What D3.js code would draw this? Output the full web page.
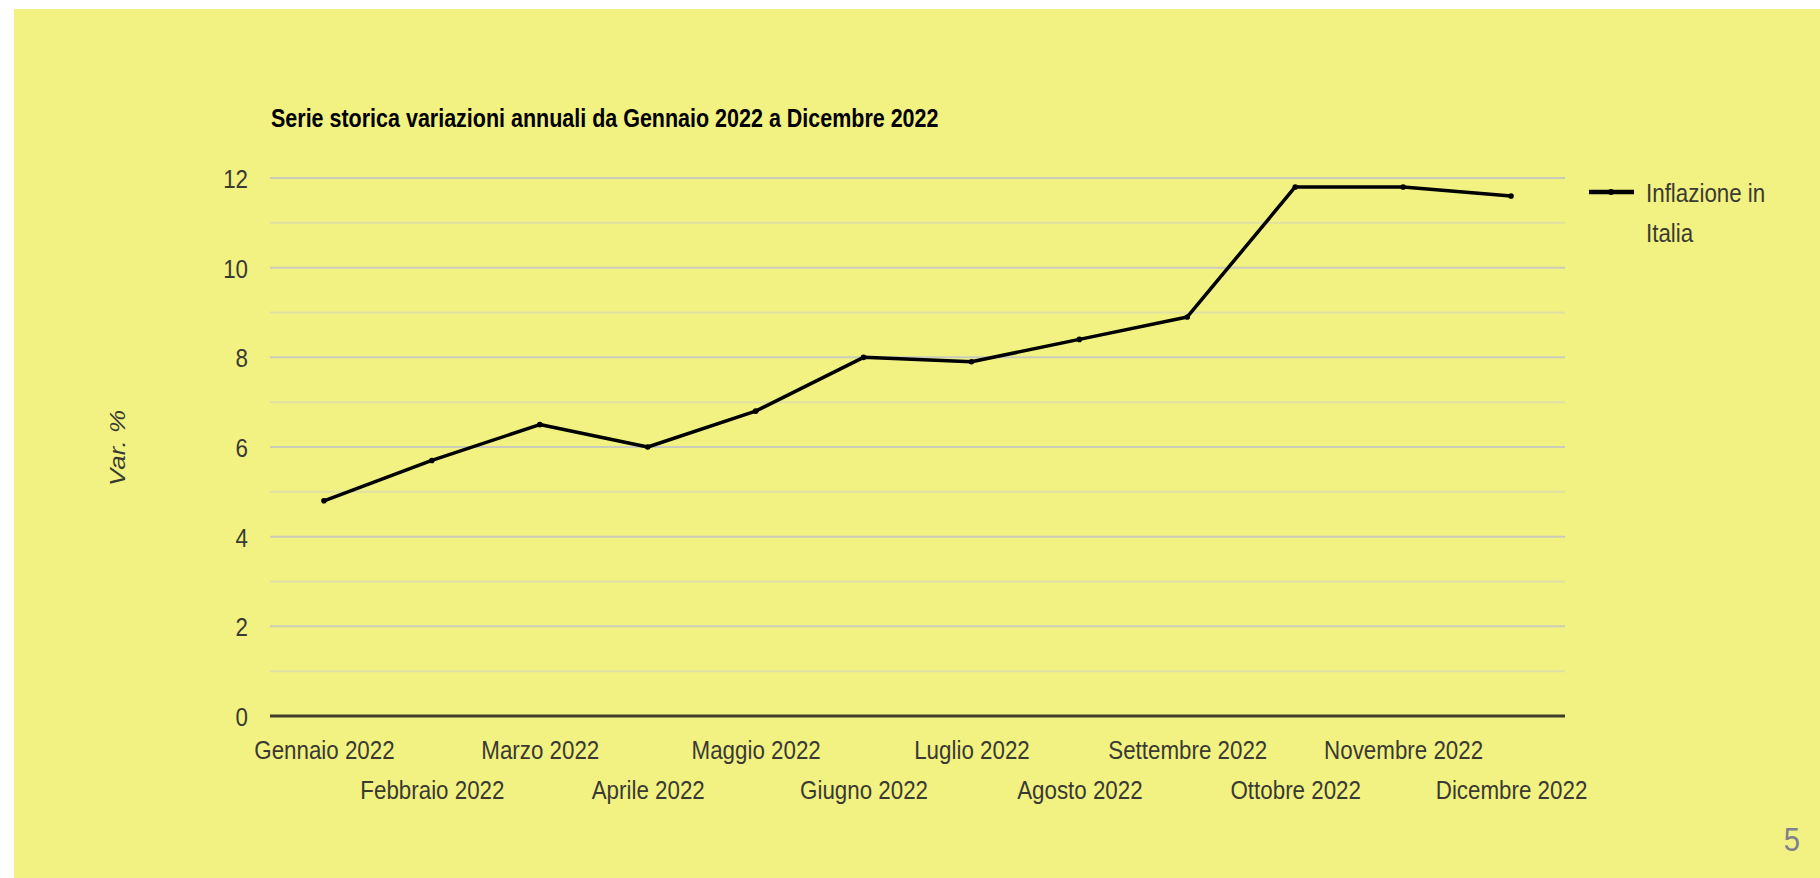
<!DOCTYPE html>
<html>
<head>
<meta charset="utf-8">
<script src="https://cdn.jsdelivr.net/npm/d3@7"></script>
<style>
  html, body { margin: 0; padding: 0; background: #fff; }
  svg { display: block; }
  text { font-family: "Liberation Sans", Arial, sans-serif; }
</style>
</head>
<body>
<svg width="1820" height="878"></svg>
<script>
// dati: inflazione italiana, variazioni annuali 2022
const months = ["Gennaio 2022", "Febbraio 2022", "Marzo 2022", "Aprile 2022", "Maggio 2022", "Giugno 2022",
  "Luglio 2022", "Agosto 2022", "Settembre 2022", "Ottobre 2022", "Novembre 2022", "Dicembre 2022"];
const inflation = [4.8, 5.7, 6.5, 6.0, 6.8, 8.0, 7.9, 8.4, 8.9, 11.8, 11.8, 11.6];
const yTicks = [0, 2, 4, 6, 8, 10, 12];
const gridValues = [0, 1, 2, 3, 4, 5, 6, 7, 8, 9, 10, 11, 12];
const seriesName = ["Inflazione in", "Italia"];
const title = "Serie storica variazioni annuali da Gennaio 2022 a Dicembre 2022";
const yTitle = "Var. %";
const pageNumber = "5";

const sx = 0.86; // testo "stretto" come nell'originale
const textColor = "#3a3a32";

let svg = d3.select("svg");

svg.append("rect")
  .attr("x", 14).attr("y", 9)
  .attr("width", 1820 - 14).attr("height", 878 - 9)
  .attr("fill", "#f2f282");

let plotLeft = 270, plotRight = 1565, plotTop = 178, plotBottom = 716;

let x = d3.scalePoint().domain(months).range([plotLeft, plotRight]).padding(0.5);
let y = d3.scaleLinear().domain([0, 12]).range([plotBottom, plotTop]);

// griglia
let g = svg.append("g");
g.selectAll("line.grid")
  .data(gridValues)
  .enter()
  .append("line")
  .attr("class", "grid")
  .attr("x1", plotLeft).attr("x2", plotRight)
  .attr("y1", d => y(d)).attr("y2", d => y(d))
  .attr("stroke", d => d === 0 ? "#3d3d2a" : (d % 2 === 0 ? "#cbcbbc" : "#dfdfa6"))
  .attr("stroke-width", d => d === 0 ? 3 : 2);

// asse y
let yAxis = svg.append("g")
  .attr("transform", "translate(" + plotLeft + ",0)")
  .call(d3.axisLeft(y).tickValues(yTicks).tickSize(0).tickFormat(d3.format("d")));
yAxis.select(".domain").remove();
yAxis.selectAll("text")
  .attr("x", -22 / sx)
  .attr("dy", "0.36em")
  .attr("transform", "scale(" + sx + ",1)")
  .style("font-size", "26px")
  .style("font-family", "'Liberation Sans', Arial, sans-serif")
  .attr("fill", textColor);

// asse x: etichette alternate su due righe
let xAxis = svg.append("g")
  .attr("transform", "translate(0," + plotBottom + ")")
  .call(d3.axisBottom(x).tickSize(0));
xAxis.select(".domain").remove();
xAxis.selectAll("text")
  .attr("y", (d, i) => i % 2 === 0 ? 43 : 83)
  .attr("dy", 0)
  .attr("transform", "scale(" + sx + ",1)")
  .style("font-size", "26px")
  .style("font-family", "'Liberation Sans', Arial, sans-serif")
  .attr("fill", textColor);

// linea
let line = d3.line()
  .x((d, i) => x(months[i]))
  .y(d => y(d));

svg.append("path")
  .datum(inflation)
  .attr("d", line)
  .attr("fill", "none")
  .attr("stroke", "#000")
  .attr("stroke-width", 3.5)
  .attr("stroke-linejoin", "round");

svg.selectAll("circle.pt")
  .data(inflation)
  .enter()
  .append("circle")
  .attr("class", "pt")
  .attr("cx", (d, i) => x(months[i]))
  .attr("cy", d => y(d))
  .attr("r", 2.8)
  .attr("fill", "#000");

// titolo
svg.append("text")
  .attr("transform", "translate(271,127) scale(" + sx + ",1)")
  .style("font-size", "25px")
  .style("font-weight", "bold")
  .attr("fill", "#000")
  .text(title);

// titolo asse y
svg.append("text")
  .attr("transform", "translate(125,448) rotate(-90) scale(1," + sx + ")")
  .attr("text-anchor", "middle")
  .style("font-size", "26px")
  .style("font-style", "italic")
  .attr("fill", textColor)
  .text(yTitle);

// legenda
let legend = svg.append("g");
legend.append("line")
  .attr("x1", 1589).attr("x2", 1634)
  .attr("y1", 192).attr("y2", 192)
  .attr("stroke", "#000").attr("stroke-width", 4.5);
legend.append("circle")
  .attr("cx", 1611).attr("cy", 192).attr("r", 3).attr("fill", "#000");
legend.selectAll("text")
  .data(seriesName)
  .enter()
  .append("text")
  .attr("transform", (d, i) => "translate(1646," + (202 + i * 40) + ") scale(" + sx + ",1)")
  .style("font-size", "26px")
  .attr("fill", textColor)
  .text(d => d);

// numero pagina
svg.append("text")
  .attr("transform", "translate(1800,851) scale(" + sx + ",1)")
  .attr("text-anchor", "end")
  .style("font-size", "34px")
  .attr("fill", "#80808e")
  .text(pageNumber);
</script>
</body>
</html>
